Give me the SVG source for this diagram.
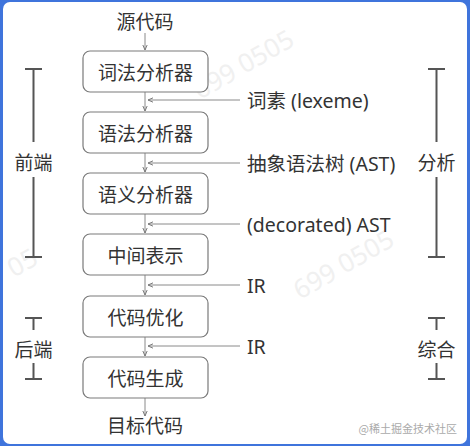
<svg xmlns="http://www.w3.org/2000/svg" width="470" height="446" viewBox="0 0 470 446">
<defs>
<style>
.box{fill:#fff;stroke:#7a7a7a;stroke-width:1.2}
.t{font-family:"Noto Sans CJK SC","Noto Sans",sans-serif;font-size:19px;fill:#333;text-anchor:middle;dominant-baseline:central}
.lab{font-family:"Noto Sans","Noto Sans CJK SC",sans-serif;font-size:19.5px;fill:#333;dominant-baseline:central}
.ln{stroke:#8a8a8a;stroke-width:1;fill:none}
.br{stroke:#555;stroke-width:2;fill:none}
.wm{font-family:"Noto Sans",sans-serif;font-size:26px;fill:#f0f0f0}
</style>
<marker id="ah" viewBox="0 0 8 8" refX="7" refY="4" markerWidth="6" markerHeight="6" orient="auto-start-reverse" markerUnits="userSpaceOnUse">
<path d="M0,1 L7,4 L0,7" fill="none" stroke="#777" stroke-width="1.3"/>
</marker>
</defs>
<rect x="0" y="0" width="470" height="446" fill="#3f74dc"/>
<rect x="3" y="2" width="464" height="442" rx="7" fill="#fff"/>
<text class="wm" x="200" y="100" transform="rotate(-30 200 100)">699 0505</text>
<text class="wm" x="14" y="278" font-size="22" transform="rotate(-30 14 278)">05</text>
<text class="wm" x="300" y="300" transform="rotate(-30 300 300)">699 0505</text>
<g id="connectors">
<line class="ln" x1="145" y1="33" x2="145" y2="50" marker-end="url(#ah)"/>
<line class="ln" x1="145" y1="92" x2="145" y2="111" marker-end="url(#ah)"/>
<line class="ln" x1="145" y1="153" x2="145" y2="172" marker-end="url(#ah)"/>
<line class="ln" x1="145" y1="214" x2="145" y2="233" marker-end="url(#ah)"/>
<line class="ln" x1="145" y1="275" x2="145" y2="295" marker-end="url(#ah)"/>
<line class="ln" x1="145" y1="337" x2="145" y2="356" marker-end="url(#ah)"/>
<line class="ln" x1="145" y1="398" x2="145" y2="416" marker-end="url(#ah)"/>
<line class="ln" x1="240" y1="100" x2="148" y2="100" marker-end="url(#ah)"/>
<line class="ln" x1="240" y1="163" x2="148" y2="163" marker-end="url(#ah)"/>
<line class="ln" x1="240" y1="224" x2="148" y2="224" marker-end="url(#ah)"/>
<line class="ln" x1="240" y1="285" x2="148" y2="285" marker-end="url(#ah)"/>
<line class="ln" x1="240" y1="346" x2="148" y2="346" marker-end="url(#ah)"/>
</g>
<g id="src"><text class="t" x="145" y="20">源代码</text></g>
<g id="lexer"><rect class="box" x="83" y="51" width="125" height="41" rx="7"/><text class="t" x="145.5" y="71.5">词法分析器</text></g>
<g id="parser"><rect class="box" x="83" y="112" width="125" height="41" rx="7"/><text class="t" x="145.5" y="132.5">语法分析器</text></g>
<g id="semantic"><rect class="box" x="83" y="173" width="125" height="41" rx="7"/><text class="t" x="145.5" y="193.5">语义分析器</text></g>
<g id="ir"><rect class="box" x="83" y="234" width="125" height="41" rx="7"/><text class="t" x="145.5" y="254.5">中间表示</text></g>
<g id="opt"><rect class="box" x="83" y="296" width="125" height="41" rx="7"/><text class="t" x="145.5" y="316.5">代码优化</text></g>
<g id="gen"><rect class="box" x="83" y="357" width="125" height="41" rx="7"/><text class="t" x="145.5" y="377.5">代码生成</text></g>
<g id="target"><text class="t" x="145" y="424">目标代码</text></g>
<g id="labels">
<text class="lab" x="247" y="100">词素 (lexeme)</text>
<text class="lab" x="247" y="163">抽象语法树 (AST)</text>
<text class="lab" x="247" y="224">(decorated) AST</text>
<text class="lab" x="247" y="285">IR</text>
<text class="lab" x="247" y="346">IR</text>
</g>
<g id="frontend">
<path class="br" d="M25,69 H42 M33.5,69 V142 M33.5,177 V257 M25,257 H42"/>
<text class="t" x="33.5" y="161">前端</text>
</g>
<g id="analysis">
<path class="br" d="M428,69 H445 M436.5,69 V142 M436.5,177 V257 M428,257 H445"/>
<text class="t" x="436.5" y="161">分析</text>
</g>
<g id="backend">
<path class="br" d="M25,318 H42 M33.5,318 V330 M33.5,363 V379 M25,379 H42"/>
<text class="t" x="33.5" y="348">后端</text>
</g>
<g id="synthesis">
<path class="br" d="M428,318 H445 M436.5,318 V330 M436.5,363 V379 M428,379 H445"/>
<text class="t" x="436.5" y="348">综合</text>
</g>
<text x="457" y="428" font-family="Noto Sans CJK SC,sans-serif" font-size="11" fill="#aaa" text-anchor="end" dominant-baseline="central">@稀土掘金技术社区</text>
</svg>
